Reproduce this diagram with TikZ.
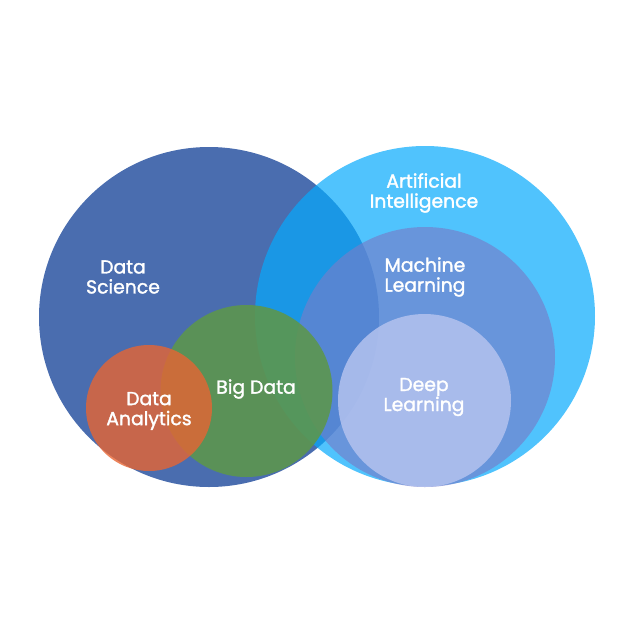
\documentclass[tikz,border=0pt]{standalone}
\usepackage{fontspec}
\setmainfont{Poppins}[BoldFont=Poppins, BoldFeatures={FakeBold=1.6}]
\usetikzlibrary{positioning}
\definecolor{azulds}{RGB}{74,109,175}
\definecolor{celesteia}{RGB}{6,170,252}
\definecolor{azulml}{RGB}{117,126,202}
\definecolor{liladl}{RGB}{180,194,239}
\definecolor{verdebd}{RGB}{92,150,78}
\definecolor{naranjada}{RGB}{231,101,51}
\tikzset{
  circulo/.style={circle, inner sep=0pt, draw=none},
  etiqueta/.style={text=white, align=center, font=\fontsize{18.8}{20}\selectfont\bfseries},
}

\begin{document}
\begin{tikzpicture}[x=1pt, y=-1pt]
    \useasboundingbox (0,0) rectangle (633,633);
    % Circulos
    \node[circulo, fill=azulds, minimum size=340pt] (ds) at (209,317) {};
    \node[circulo, fill=celesteia, fill opacity=0.7, minimum size=340pt] (ai) at (425,316) {};
    \node[circulo, fill=azulml, fill opacity=0.65, minimum size=260pt] (ml) at (425,357) {};
    \node[circulo, fill=liladl, fill opacity=0.85, minimum size=173pt] (dl) at (424.5,400.5) {};
    \node[circulo, fill=verdebd, fill opacity=0.9, minimum size=172pt] (bd) at (246.5,391) {};
    \node[circulo, fill=naranjada, fill opacity=0.8, minimum size=126pt] (da) at (149,408) {};
    % Etiquetas
    \node[etiqueta] (tds) at (123,277) {Data\\Science};
    \node[etiqueta] (tai) at (424,193) {Artificial\\Intelligence};
    \node[etiqueta] (tml) at (425,277) {Machine\\Learning};
    \node[etiqueta] (tdl) at (424,397) {Deep\\Learning};
    \node[etiqueta] (tbd) at (256,389) {Big Data};
    \node[etiqueta] (tda) at (149,411) {Data\\Analytics};
  \end{tikzpicture}
\end{document}
